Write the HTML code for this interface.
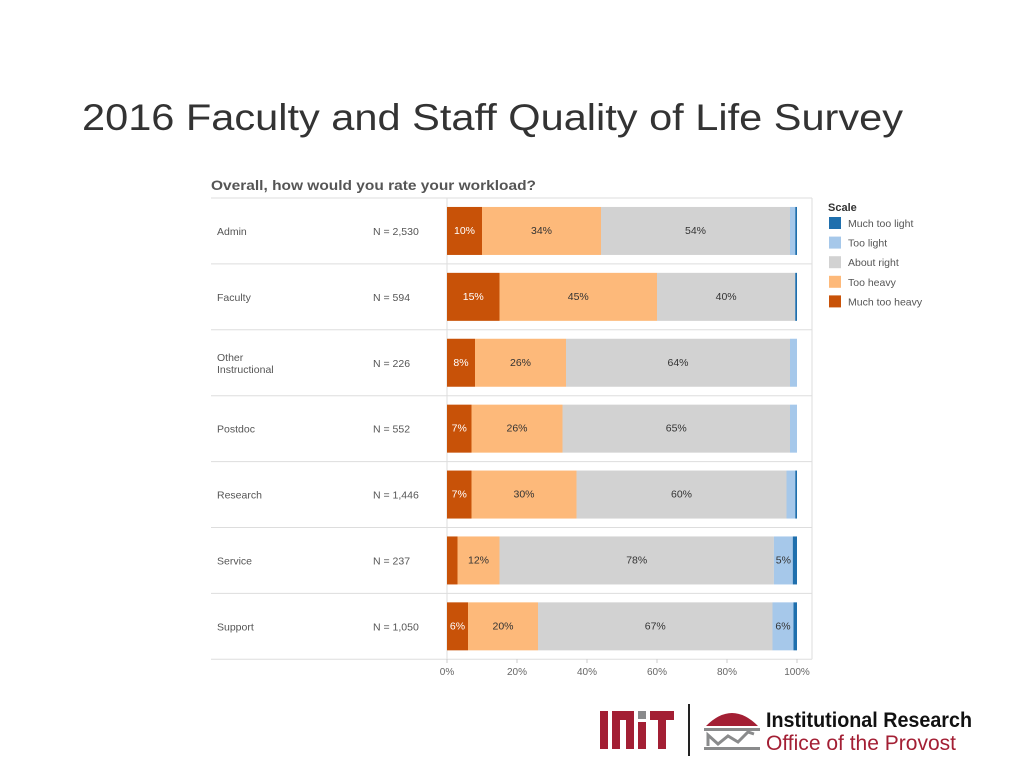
<!DOCTYPE html>
<html><head><meta charset="utf-8"><style>
html,body{margin:0;padding:0;background:#fff;width:1024px;height:768px;overflow:hidden}
svg{display:block}
</style></head><body>
<svg id="s" width="1024" height="768" xmlns="http://www.w3.org/2000/svg" font-family="Liberation Sans, Arial, sans-serif">
<text x="82" y="130" font-size="37" fill="#333" textLength="821" lengthAdjust="spacingAndGlyphs">2016 Faculty and Staff Quality of Life Survey</text>
<text x="211" y="190" font-size="14" font-weight="bold" fill="#555" textLength="325" lengthAdjust="spacingAndGlyphs">Overall, how would you rate your workload?</text>
<g id="chart"></g>
<g id="legend"><text x="828" y="211" font-size="11" font-weight="bold" fill="#333">Scale</text></g>
<g>
<rect x="600" y="711" width="8" height="38" fill="#a31f34"/>
<rect x="612" y="711" width="8" height="38" fill="#a31f34"/>
<rect x="612" y="711" width="22" height="9" fill="#a31f34"/>
<rect x="626" y="711" width="8" height="38" fill="#a31f34"/>
<rect x="638" y="722" width="8" height="27" fill="#a31f34"/>
<rect x="638" y="711" width="8" height="8" fill="#8a8b8c"/>
<rect x="650" y="711" width="24" height="9" fill="#a31f34"/>
<rect x="658" y="711" width="8" height="38" fill="#a31f34"/>
<rect x="688" y="704" width="2" height="52" fill="#222"/>
<path d="M706 726 Q732 700 758 726 Z" fill="#a31f34"/>
<rect x="704" y="728" width="56" height="3" fill="#8a8b8c"/>
<path d="M708 746 L708 735 L718 744 L728 736 L738 742 L748 732 L754 734" stroke="#8a8b8c" stroke-width="3" fill="none"/>
<rect x="704" y="747" width="56" height="3" fill="#8a8b8c"/>
<text x="766" y="727" font-size="21" font-weight="bold" fill="#111" textLength="206" lengthAdjust="spacingAndGlyphs">Institutional Research</text>
<text x="766" y="750" font-size="21" fill="#a31f34" textLength="190" lengthAdjust="spacingAndGlyphs">Office of the Provost</text>
</g>
</svg>
<script>
const categories=["Admin","Faculty","Other|Instructional","Postdoc","Research","Service","Support"];
const nLabels=["N = 2,530","N = 594","N = 226","N = 552","N = 1,446","N = 237","N = 1,050"];
const muchTooHeavy=[10,15,8,7,7,3,6];
const tooHeavy=[34,45,26,26,30,12,20];
const aboutRight=[54,39.5,64,65,60,78.4,67];
const tooLight=[1.5,0,2,2,2.5,5.4,6];
const muchTooLight=[0.5,0.5,0,0,0.5,1.2,1];
const ticks=[0,20,40,60,80,100];
const seriesNames=["Much too light","Too light","About right","Too heavy","Much too heavy"];
const seriesColors=["#1f6fad","#a6c8ea","#d2d2d2","#fdb97a","#c85208"];

const NS="http://www.w3.org/2000/svg";
const x0=447,x1=797,rowTop=198,rowH=65.9;
const xs=v=>x0+(x1-x0)*v/100;
const g=document.getElementById('chart');
function mk(tag,at,parent){const e=document.createElementNS(NS,tag);for(const k in at)e.setAttribute(k,at[k]);(parent||g).appendChild(e);return e;}
for(let i=0;i<=categories.length;i++){
  const l=mk('line',{x1:211,x2:812,y1:rowTop+i*rowH,y2:rowTop+i*rowH,stroke:'#ddd','stroke-width':1});
  
  
}
const vl=mk('line',{x1:x0,x2:x0,y1:rowTop,y2:rowTop+categories.length*rowH,stroke:'#ddd'});


const rl=mk('line',{x1:812,x2:812,y1:rowTop,y2:rowTop+categories.length*rowH,stroke:'#ddd'});


const series=[muchTooHeavy,tooHeavy,aboutRight,tooLight,muchTooLight];
const cols=["#c85208","#fdb97a","#d2d2d2","#a6c8ea","#1f6fad"];
const txtCol=["#fff","#333","#333","#333","#fff"];
categories.forEach((c,i)=>{
  const cy=rowTop+i*rowH+rowH/2;
  const parts=c.split('|');
  parts.forEach((p,j)=>{
    const t=mk('text',{x:217,y:cy+4+(j-(parts.length-1)/2)*12,'font-size':10.5,fill:'#555'});
    t.textContent=p;
    
    
  });
  const n=mk('text',{x:373,y:cy+4,'font-size':10.5,fill:'#555'});
  n.textContent=nLabels[i];
  
  
  let acc=0;
  series.forEach((s,k)=>{
    const v=s[i]; if(!v){return;}
    const r=mk('rect',{x:xs(acc),y:cy-24,width:xs(acc+v)-xs(acc),height:48,fill:cols[k]});
    
    
    const w=xs(acc+v)-xs(acc);
    if(w>16){
      const t=mk('text',{x:(xs(acc)+xs(acc+v))/2,y:cy+3,'font-size':10.5,'text-anchor':'middle',fill:txtCol[k]});
      t.textContent=Math.round(v)+'%';
      
      
    }
    acc+=v;
  });
});
ticks.forEach(t=>{
  const x=xs(t);
  const l=mk('line',{x1:x,x2:x,y1:659,y2:663,stroke:'#ccc'});
  
  
  const tx=mk('text',{x:x,y:675,'font-size':10,'text-anchor':'middle',fill:'#666'});
  tx.textContent=t+'%';
  
  
});
const lg=document.getElementById('legend');
seriesNames.forEach((n,i)=>{
  const y=217+i*19.6;
  const r=mk('rect',{x:829,y:y,width:12,height:12,fill:seriesColors[i]},lg);
  
  
  const t=mk('text',{x:848,y:y+10,'font-size':10.5,fill:'#555'},lg);
  t.textContent=n;
  
  
});
</script>
</body></html>
